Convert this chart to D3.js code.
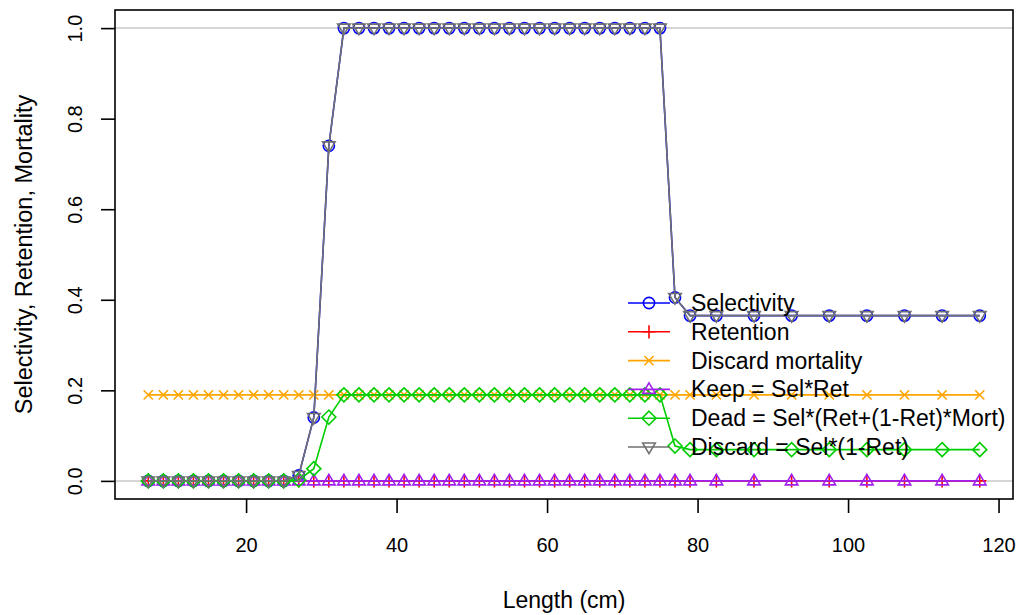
<!DOCTYPE html>
<html>
<head>
<meta charset="utf-8">
<script src="https://cdn.jsdelivr.net/npm/d3@7"></script>
<style>
  body { margin: 0; background: #fff; }
  svg { display: block; font-family: "Liberation Sans", Arial, sans-serif; }
</style>
</head>
<body>
<svg id="chart" width="1018" height="615"></svg>
<script>
// ---- data ----
const lengths = [7, 9, 11, 13, 15, 17, 19, 21, 23, 25, 27, 29, 31, 33, 35, 37, 39, 41, 43, 45,
  47, 49, 51, 53, 55, 57, 59, 61, 63, 65, 67, 69, 71, 73, 75, 77, 79,
  82.5, 87.5, 92.5, 97.5, 102.5, 107.5, 112.5, 117.5];
const selectivity = [0, 0, 0, 0, 0, 0, 0, 0, 0, 0, 0.012, 0.14, 0.74, 1, 1, 1, 1, 1, 1, 1,
  1, 1, 1, 1, 1, 1, 1, 1, 1, 1, 1, 1, 1, 1, 1, 0.405, 0.365,
  0.365, 0.365, 0.365, 0.365, 0.365, 0.365, 0.365, 0.365];
const retention = [0, 0, 0, 0, 0, 0, 0, 0, 0, 0, 0, 0, 0, 0, 0, 0, 0, 0, 0, 0,
  0, 0, 0, 0, 0, 0, 0, 0, 0, 0, 0, 0, 0, 0, 0, 0, 0,
  0, 0, 0, 0, 0, 0, 0, 0];
const discardMortality = [0.19, 0.19, 0.19, 0.19, 0.19, 0.19, 0.19, 0.19, 0.19, 0.19, 0.19, 0.19, 0.19, 0.19, 0.19, 0.19, 0.19, 0.19, 0.19, 0.19,
  0.19, 0.19, 0.19, 0.19, 0.19, 0.19, 0.19, 0.19, 0.19, 0.19, 0.19, 0.19, 0.19, 0.19, 0.19, 0.19, 0.19,
  0.19, 0.19, 0.19, 0.19, 0.19, 0.19, 0.19, 0.19];
const keep = [0, 0, 0, 0, 0, 0, 0, 0, 0, 0, 0, 0, 0, 0, 0, 0, 0, 0, 0, 0,
  0, 0, 0, 0, 0, 0, 0, 0, 0, 0, 0, 0, 0, 0, 0, 0, 0,
  0, 0, 0, 0, 0, 0, 0, 0];
const dead = [0, 0, 0, 0, 0, 0, 0, 0, 0, 0, 0.002, 0.027, 0.141, 0.19, 0.19, 0.19, 0.19, 0.19, 0.19, 0.19,
  0.19, 0.19, 0.19, 0.19, 0.19, 0.19, 0.19, 0.19, 0.19, 0.19, 0.19, 0.19, 0.19, 0.19, 0.19, 0.077, 0.069,
  0.069, 0.069, 0.069, 0.069, 0.069, 0.069, 0.069, 0.069];
const discard = [0, 0, 0, 0, 0, 0, 0, 0, 0, 0, 0.012, 0.14, 0.74, 1, 1, 1, 1, 1, 1, 1,
  1, 1, 1, 1, 1, 1, 1, 1, 1, 1, 1, 1, 1, 1, 1, 0.405, 0.365,
  0.365, 0.365, 0.365, 0.365, 0.365, 0.365, 0.365, 0.365];

const seriesNames = ["Selectivity", "Retention", "Discard mortality", "Keep = Sel*Ret",
  "Dead = Sel*(Ret+(1-Ret)*Mort)", "Discard = Sel*(1-Ret)"];
const seriesValues = [selectivity, retention, discardMortality, keep, dead, discard];
const seriesColors = ["#0000ff", "#ff0000", "#ffa500", "#a020f0", "#00cd00", "#707070"];
const seriesShapes = ["circle", "plus", "cross", "triangle", "diamond", "invtriangle"];
const xTicks = [20, 40, 60, 80, 100, 120];
const yTicks = [0, 0.2, 0.4, 0.6, 0.8, 1.0];
const refLines = [0, 1];

// ---- layout ----
const svg = d3.select("#chart");
const mLeft = 115, mRight = 1013, mTop = 10, mBottom = 499;
const xMin = d3.min(lengths), xMax = d3.max(lengths);
const xPad = (xMax - xMin) * 0.04;
const x = d3.scaleLinear().domain([xMin - xPad, xMax + xPad]).range([mLeft, mRight]);
const y = d3.scaleLinear().domain([-0.04, 1.04]).range([mBottom, mTop]);

svg.append("defs").append("clipPath").attr("id", "clip")
  .append("rect").attr("x", mLeft).attr("y", mTop).attr("width", mRight - mLeft).attr("height", mBottom - mTop);

const plot = svg.append("g").attr("clip-path", "url(#clip)");

// reference lines
plot.selectAll("line.ref").data(refLines).enter().append("line")
  .attr("class", "ref")
  .attr("x1", mLeft).attr("x2", mRight)
  .attr("y1", d => y(d)).attr("y2", d => y(d))
  .attr("stroke", "#c8c8c8").attr("stroke-width", 1.5);

function markerPath(shape) {
  const r = 5.6;
  switch (shape) {
    case "circle": return d3.symbol().type(d3.symbolCircle).size(Math.PI * r * r)();
    case "plus": return `M${-r - 1},0H${r + 1}M0,${-r - 1}V${r + 1}`;
    case "cross": { const a = 4.6; return `M${-a},${-a}L${a},${a}M${-a},${a}L${a},${-a}`; }
    case "triangle": { const h = 6.6; return `M0,${-h}L${h * 0.95},${h * 0.6}L${-h * 0.95},${h * 0.6}Z`; }
    case "invtriangle": { const h = 6.6; return `M0,${h}L${h * 0.95},${-h * 0.6}L${-h * 0.95},${-h * 0.6}Z`; }
    case "diamond": { const d = 7; return `M0,${-d}L${d},0L0,${d}L${-d},0Z`; }
  }
}

const line = d3.line().x(d => x(d[0])).y(d => y(d[1]));

seriesValues.forEach((vals, i) => {
  const pts = lengths.map((l, j) => [l, vals[j]]);
  const g = plot.append("g");
  g.append("path").datum(pts).attr("d", line)
    .attr("fill", "none").attr("stroke", seriesColors[i]).attr("stroke-width", 1.6);
  g.selectAll("path.m").data(pts).enter().append("path")
    .attr("class", "m")
    .attr("transform", d => `translate(${x(d[0])},${y(d[1])})`)
    .attr("d", markerPath(seriesShapes[i]))
    .attr("fill", "none").attr("stroke", seriesColors[i]).attr("stroke-width", 1.6);
});

// box
svg.append("rect").attr("x", mLeft).attr("y", mTop).attr("width", mRight - mLeft).attr("height", mBottom - mTop)
  .attr("fill", "none").attr("stroke", "#000").attr("stroke-width", 1.6);

// x axis
const xAxis = svg.append("g").attr("transform", `translate(0,${mBottom})`)
  .call(d3.axisBottom(x).tickValues(xTicks).tickSize(14).tickPadding(25).tickFormat(d3.format("d")));
xAxis.select(".domain").remove();
xAxis.selectAll(".tick line").attr("stroke", "#000").attr("stroke-width", 1.6);
xAxis.selectAll("text").attr("font-size", 20).attr("fill", "#000")
  .attr("font-family", "Liberation Sans, Arial, sans-serif");

// y axis
const yAxis = svg.append("g").attr("transform", `translate(${mLeft},0)`)
  .call(d3.axisLeft(y).tickValues(yTicks).tickSize(14).tickFormat(d3.format(".1f")));
yAxis.select(".domain").remove();
yAxis.selectAll(".tick line").attr("stroke", "#000").attr("stroke-width", 1.6);
yAxis.selectAll("text")
  .attr("font-size", 20).attr("fill", "#000")
  .attr("font-family", "Liberation Sans, Arial, sans-serif")
  .attr("x", null).attr("dy", null)
  .attr("text-anchor", "middle")
  .attr("transform", "translate(-33,0) rotate(-90)");

// axis titles
svg.append("text").attr("x", (mLeft + mRight) / 2).attr("y", 608)
  .attr("text-anchor", "middle").attr("font-size", 23).attr("fill", "#000")
  .text("Length (cm)");
svg.append("text").attr("transform", `translate(32,${(mTop + mBottom) / 2}) rotate(-90)`)
  .attr("text-anchor", "middle").attr("font-size", 23.5).attr("fill", "#000")
  .text("Selectivity, Retention, Mortality");

// legend
const legend = svg.append("g");
const lgX = 628, lgY = 303, lgStep = 28.8;
seriesNames.forEach((name, i) => {
  const yy = lgY + i * lgStep;
  legend.append("line").attr("x1", lgX).attr("x2", lgX + 42).attr("y1", yy).attr("y2", yy)
    .attr("stroke", seriesColors[i]).attr("stroke-width", 1.6);
  legend.append("path").attr("transform", `translate(${lgX + 21},${yy})`)
    .attr("d", markerPath(seriesShapes[i]))
    .attr("fill", "none").attr("stroke", seriesColors[i]).attr("stroke-width", 1.6);
  legend.append("text").attr("x", 691).attr("y", yy).attr("dy", "0.35em")
    .attr("font-size", 23).attr("fill", "#000").text(name);
});
</script>
</body>
</html>
